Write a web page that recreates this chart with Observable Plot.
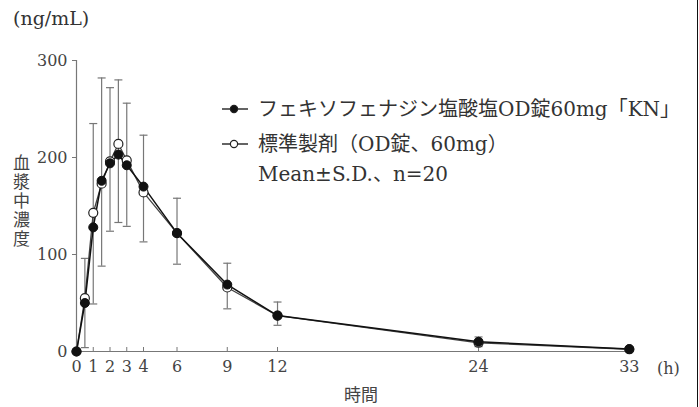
<!DOCTYPE html>
<html>
<head>
<meta charset="utf-8">
<script src="https://cdn.jsdelivr.net/npm/d3@7"></script>
<script src="https://cdn.jsdelivr.net/npm/@observablehq/plot@0.6"></script>
<style>
  html, body { margin: 0; padding: 0; background: #fff; }
  #wrap { position: relative; width: 699px; height: 407px; overflow: hidden; background: #fff;
          font-family: "DejaVu Serif", "Noto Sans CJK JP", serif; color: #333; }
  .abs { position: absolute; white-space: nowrap; }
  #plot { position: absolute; left: 0; top: 0; }
  .leg { position: absolute; left: 220px; font-size: 20px; line-height: 22px; color: #333;
         font-family: "DejaVu Serif", "Noto Sans CJK JP", serif; white-space: nowrap; }
  .leg svg { position: absolute; left: 0; top: 3px; }
  .leg span { position: absolute; left: 38px; top: 0; }
  #ylab { position: absolute; left: 10px; top: 154px; writing-mode: vertical-rl; text-orientation: upright;
          font-size: 17px; letter-spacing: 2px; line-height: 22px; font-family: "Noto Sans CJK JP"; color: #444; white-space: nowrap; }
</style>
</head>
<body>
<div id="wrap">
  <div id="plot"></div>
  <div class="abs" style="left:13px; top:6px; font-size:19px; line-height:24px;">(ng/mL)</div>
  <div id="ylab"></div>
  <div class="abs" style="left:344px; top:381px; font-size:17px; font-family:'Noto Sans CJK JP'; color:#444;">時間</div>
  <div class="abs" style="left:657px; top:359px; font-size:16px; line-height:20px; color:#444;">(h)</div>
  <div id="legend"></div>
  <div class="abs" style="left:697px; top:0; width:1px; height:407px; background:#111;"></div>
</div>
<script>
// ---- data ----
const times      = [0, 0.5, 1, 1.5, 2, 2.5, 3, 4, 6, 9, 12, 24, 33];
const testMean   = [0, 50, 128, 176, 194, 203, 192, 170, 122, 69, 37, 10, 2.5];
const refMean    = [0, 55, 143, 173, 196, 214, 197, 164, 122, 66, 37, 9, 2.3];
const errLow     = [null, 4, 49, 88, 124, 133, 129, 113, 90, 44, 27, 5, 0.5];
const errHigh    = [null, 96, 235, 282, 272, 280, 256, 223, 158, 91, 51, 15, 5];
const xTicks     = [0, 1, 2, 3, 4, 6, 9, 12, 24, 33];
const yTicks     = [0, 100, 200, 300];
const seriesNames = ["フェキソフェナジン塩酸塩OD錠60mg「KN」", "標準製剤（OD錠、60mg）"];
const noteText   = "Mean±S.D.、n=20";
const yLabelText = "血漿中濃度";

const testRows = times.map((t, i) => ({t, v: testMean[i]}));
const refRows  = times.map((t, i) => ({t, v: refMean[i]}));
const errRows  = times.map((t, i) => ({t, lo: errLow[i], hi: errHigh[i]})).filter(d => d.hi != null);

const cap = { draw(ctx) { ctx.moveTo(-4, 0); ctx.lineTo(4, 0); } };

const chart = Plot.plot({
  width: 699, height: 407,
  marginLeft: 76, marginRight: 66, marginTop: 60, marginBottom: 56,
  x: { domain: [0, 33.25] },
  y: { domain: [0, 300] },
  style: { fontFamily: "DejaVu Serif", fontSize: "16px", color: "#444", background: "transparent" },
  marks: [
    Plot.ruleY([0], { stroke: "#777", strokeWidth: 1.2 }),
    Plot.ruleX([0], { stroke: "#777", strokeWidth: 1.2 }),
    Plot.axisX({ ticks: xTicks, tickSize: -4, tickFormat: () => "", stroke: "#777", label: null }),
    Plot.axisX({ ticks: xTicks, tickSize: 0, tickPadding: 9, label: null, fill: "#444" }),
    Plot.axisY({ ticks: yTicks, tickSize: 4, tickPadding: 5, label: null, stroke: "#777", fill: "#444" }),
    Plot.ruleX(errRows, { x: "t", y1: "lo", y2: "hi", stroke: "#777", strokeWidth: 1.2 }),
    Plot.dot(errRows, { x: "t", y: "hi", symbol: cap, r: 4, stroke: "#777", strokeWidth: 1.2, fill: "none" }),
    Plot.dot(errRows, { x: "t", y: "lo", symbol: cap, r: 4, stroke: "#777", strokeWidth: 1.2, fill: "none" }),
    Plot.line(refRows, { x: "t", y: "v", stroke: "#444", strokeWidth: 1.3 }),
    Plot.line(testRows, { x: "t", y: "v", stroke: "#111", strokeWidth: 1.5 }),
    Plot.dot(refRows, { x: "t", y: "v", r: 4.5, fill: "#fff", stroke: "#222", strokeWidth: 1.2 }),
    Plot.dot(testRows, { x: "t", y: "v", r: 4.5, fill: "#111", stroke: "#111", strokeWidth: 1 })
  ]
});
document.getElementById("plot").appendChild(chart);

// ---- vertical y label ----
document.getElementById("ylab").textContent = yLabelText;

// ---- legend ----
const legend = document.getElementById("legend");
const rows = [
  { text: seriesNames[0], fill: "#111", top: 98 },
  { text: seriesNames[1], fill: "#fff", top: 133 },
  { text: noteText, fill: null, top: 163 }
];
rows.forEach(r => {
  const d = document.createElement("div");
  d.className = "leg";
  d.style.top = r.top + "px";
  let sym = "";
  if (r.fill) {
    sym = `<svg width="30" height="16" viewBox="0 0 30 16"><line x1="2" y1="8" x2="28" y2="8" stroke="#222" stroke-width="1.4"/><circle cx="14" cy="8" r="3.6" fill="${r.fill}" stroke="#222" stroke-width="1.2"/></svg>`;
  }
  d.innerHTML = sym + `<span>${r.text}</span>`;
  legend.appendChild(d);
});
</script>
</body>
</html>
